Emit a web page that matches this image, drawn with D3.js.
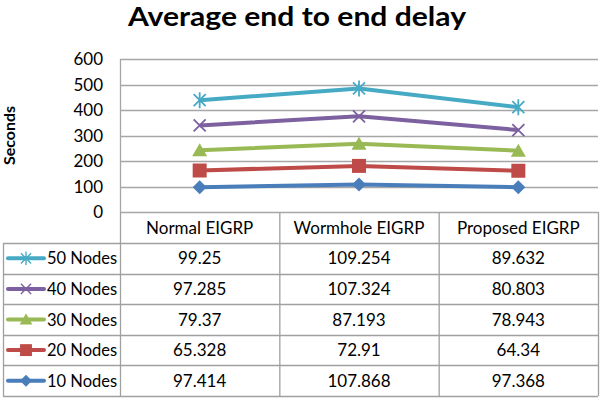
<!DOCTYPE html>
<html>
<head>
<meta charset="utf-8">
<script src="https://cdn.jsdelivr.net/npm/d3@7"></script>
<style>
  body { margin: 0; background: #fff; }
  svg { display: block; font-family: Lato, 'Open Sans', sans-serif; }
</style>
</head>
<body>
<div class="chart-container"></div>
<script>
const categories = ['Normal EIGRP', 'Wormhole EIGRP', 'Proposed EIGRP']
const seriesNames = ['10 Nodes', '20 Nodes', '30 Nodes', '40 Nodes', '50 Nodes']
const nodes10 = [97.414, 107.868, 97.368]
const nodes20 = [65.328, 72.91, 64.34]
const nodes30 = [79.37, 87.193, 78.943]
const nodes40 = [97.285, 107.324, 80.803]
const nodes50 = [99.25, 109.254, 89.632]
const yTicks = [0, 100, 200, 300, 400, 500, 600]

const seriesValues = [nodes10, nodes20, nodes30, nodes40, nodes50]
const colors = ['#4a7ebb', '#be4b48', '#98b954', '#7d60a0', '#46aac5']
const markers = ['diamond', 'square', 'triangle', 'x', 'star']

const width = 600
const height = 399
const plot = { left: 120, right: 598, top: 59, bottom: 212 }
const rowH = 30.6
const tableTop = 212
const headerH = 31
const legendLeft = 3

const svg = d3
  .select('.chart-container')
  .append('svg')
  .attr('width', width)
  .attr('height', height)

// table rows built from the data, stacked like excel "stacked line"
const rows = categories.map((c, i) => {
  const row = { cat: c }
  seriesNames.forEach((s, j) => (row[s] = seriesValues[j][i]))
  return row
})
const stacked = d3.stack().keys(seriesNames)(rows)

const x = d3.scaleBand().domain(categories).range([plot.left, plot.right])
const y = d3.scaleLinear().domain([0, 600]).range([plot.bottom, plot.top])

// title
svg
  .append('text')
  .attr('x', 297)
  .attr('y', 26)
  .attr('text-anchor', 'middle')
  .attr('font-size', 27)
  .attr('font-weight', 'bold')
  .attr('fill', '#000')
  .attr('textLength', 338)
  .attr('lengthAdjust', 'spacingAndGlyphs')
  .text('Average end to end delay')

// gridlines
svg
  .append('g')
  .selectAll('line')
  .data(yTicks)
  .enter()
  .append('line')
  .attr('x1', plot.left)
  .attr('x2', plot.right)
  .attr('y1', (d) => Math.round(y(d)) + 0.5)
  .attr('y2', (d) => Math.round(y(d)) + 0.5)
  .attr('stroke', '#a6a6a6')
  .attr('stroke-width', 1.3)

svg
  .append('line')
  .attr('x1', plot.left + 0.5)
  .attr('x2', plot.left + 0.5)
  .attr('y1', plot.top)
  .attr('y2', plot.bottom)
  .attr('stroke', '#a6a6a6')
  .attr('stroke-width', 1.3)

// y axis labels
const yAxis = svg
  .append('g')
  .attr('transform', `translate(${plot.left - 17},0)`)
  .call(d3.axisLeft(y).tickValues(yTicks).tickSize(0).tickPadding(0))
yAxis.select('.domain').remove()
yAxis
  .selectAll('text')
  .attr('font-size', 17)
  .attr('font-family', 'Lato, sans-serif')
  .attr('fill', '#000')
  .attr('dy', '0.35em')

svg
  .append('text')
  .attr('transform', `translate(15,${(plot.top + plot.bottom) / 2}) rotate(-90)`)
  .attr('text-anchor', 'middle')
  .attr('font-size', 16)
  .attr('font-weight', 'bold')
  .text('Seconds')

// table
const table = svg.append('g').attr('class', 'table')
const tableBottom = tableTop + headerH + rowH * seriesNames.length
const gridStroke = '#a0a0a0'

// verticals
const colEdges = [plot.left, ...categories.map((c) => x(c) + x.bandwidth())]
colEdges.forEach((cx) => {
  table
    .append('line')
    .attr('x1', cx + 0.5)
    .attr('x2', cx + 0.5)
    .attr('y1', plot.bottom)
    .attr('y2', tableBottom)
    .attr('stroke', gridStroke)
    .attr('stroke-width', 1.3)
})
table
  .append('line')
  .attr('x1', legendLeft + 0.5)
  .attr('x2', legendLeft + 0.5)
  .attr('y1', tableTop + headerH)
  .attr('y2', tableBottom)
  .attr('stroke', gridStroke)
  .attr('stroke-width', 1.3)

// horizontals
for (let r = 0; r <= seriesNames.length; r++) {
  const yy = Math.round(tableTop + headerH + rowH * r) + 0.5
  table
    .append('line')
    .attr('x1', legendLeft)
    .attr('x2', plot.right)
    .attr('y1', yy)
    .attr('y2', yy)
    .attr('stroke', gridStroke)
    .attr('stroke-width', 1.3)
}

// header
table
  .selectAll('.head')
  .data(categories)
  .enter()
  .append('text')
  .attr('class', 'head')
  .attr('x', (d) => x(d) + x.bandwidth() / 2)
  .attr('y', tableTop + headerH / 2 + 6)
  .attr('text-anchor', 'middle')
  .attr('font-size', 17)
  .text((d) => d)

function markerPath(type) {
  switch (type) {
    case 'diamond':
      return 'M0,-7L7,0L0,7L-7,0Z'
    case 'square':
      return 'M-7,-7H7V7H-7Z'
    case 'triangle':
      return 'M0,-7L7.5,6L-7.5,6Z'
    case 'x':
      return 'M-6,-6L6,6M-6,6L6,-6'
    case 'star':
      return 'M-6,-6L6,6M-6,6L6,-6M0,-8V8'
  }
}
const isStroked = (t) => t === 'x' || t === 'star'

// rows: top row is 50 Nodes
const order = d3.range(seriesNames.length).reverse()
order.forEach((si, r) => {
  const cy = tableTop + headerH + rowH * r + rowH / 2
  const g = table.append('g')
  g.append('line')
    .attr('x1', 8)
    .attr('x2', 44)
    .attr('y1', cy)
    .attr('y2', cy)
    .attr('stroke', colors[si])
    .attr('stroke-width', 4)
    .attr('stroke-linecap', 'round')
  g.append('path')
    .attr('transform', `translate(26,${cy}) scale(0.85)`)
    .attr('d', markerPath(markers[si]))
    .attr('fill', isStroked(markers[si]) ? 'none' : colors[si])
    .attr('stroke', colors[si])
    .attr('stroke-width', isStroked(markers[si]) ? 1.6 : 0)
  g.append('text')
    .attr('x', 47)
    .attr('y', cy + 6)
    .attr('font-size', 16.5)
    .text(seriesNames[si])
  g.selectAll('.val')
    .data(seriesValues[si])
    .enter()
    .append('text')
    .attr('class', 'val')
    .attr('x', (d, i) => x(categories[i]) + x.bandwidth() / 2)
    .attr('y', cy + 6)
    .attr('text-anchor', 'middle')
    .attr('font-size', 17)
    .text((d) => d)
})

// stacked lines
const line = d3
  .line()
  .x((d) => x(d.data.cat) + x.bandwidth() / 2)
  .y((d) => y(d[1]))

const lines = svg.append('g').attr('class', 'lines')
stacked.forEach((s, si) => {
  lines
    .append('path')
    .datum(s)
    .attr('d', line)
    .attr('fill', 'none')
    .attr('stroke', colors[si])
    .attr('stroke-width', 4)
    .attr('stroke-linejoin', 'round')
  lines
    .selectAll(`.m${si}`)
    .data(s)
    .enter()
    .append('path')
    .attr('class', `m${si}`)
    .attr('transform', (d) => `translate(${x(d.data.cat) + x.bandwidth() / 2},${y(d[1])})`)
    .attr('d', markerPath(markers[si]))
    .attr('fill', isStroked(markers[si]) ? 'none' : colors[si])
    .attr('stroke', colors[si])
    .attr('stroke-width', isStroked(markers[si]) ? 1.8 : 0)
})
</script>
</body>
</html>
